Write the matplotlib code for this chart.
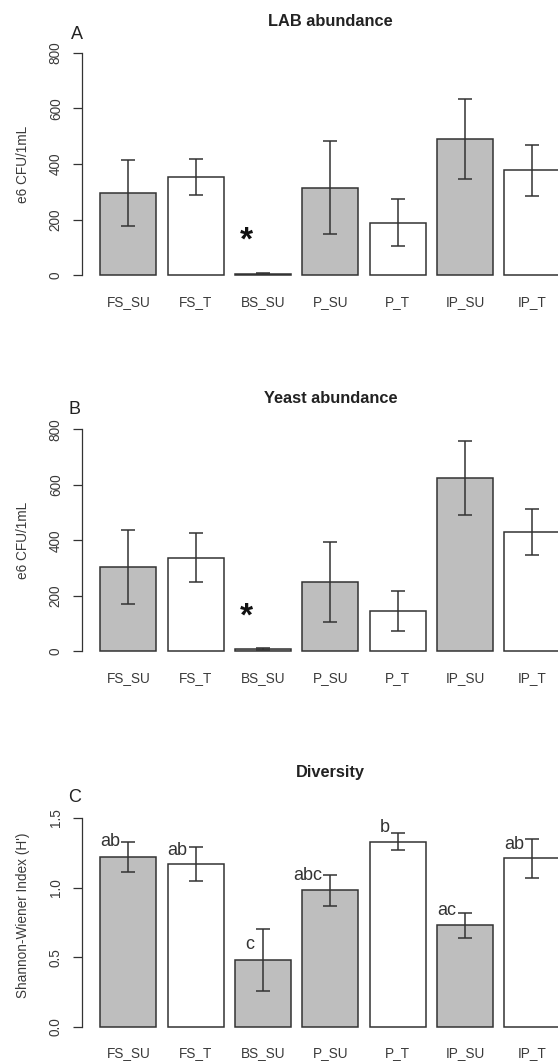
import numpy as np
import matplotlib
matplotlib.use("Agg")
import matplotlib.pyplot as plt

plt.rcParams['font.family'] = ['Liberation Sans', 'DejaVu Sans']

# ====== DATA ======
groups = ["FS_SU", "FS_T", "BS_SU", "P_SU", "P_T", "IP_SU", "IP_T"]
fills = ["#bebebe", "white", "#bebebe", "#bebebe", "white", "#bebebe", "white"]

lab_mean = [297, 352, 6, 315, 189, 489, 378]
lab_err = [119, 65, 3, 168, 85, 144, 92]

yeast_mean = [304, 338, 8, 251, 146, 625, 431]
yeast_err = [133, 87, 5, 144, 73, 133, 83]

div_mean = [1.22, 1.17, 0.48, 0.98, 1.33, 0.73, 1.21]
div_err = [0.11, 0.12, 0.22, 0.11, 0.06, 0.09, 0.14]
div_letters = ["ab", "ab", "c", "abc", "b", "ac", "ab"]
letter_y = [1.33, 1.27, 0.59, 1.086, 1.434, 0.834, 1.313]

star_group = 2
star_y = 151
# ==================

W, H = 558, 1061
DPI = 100
EDGE = "#333333"
TXT = "#3a3a3a"
FS = 9.8

x = 0.7 + 1.2 * np.arange(len(groups))


def px_axes(fig, left, right, top, bottom):
    return fig.add_axes([left / W, 1 - bottom / H, (right - left) / W, (bottom - top) / H])


def draw_panel(ax, mean, err, ylim, yticks, title, ylabel, ticklabels):
    ax.bar(x, mean, width=1.0, color=fills, edgecolor=EDGE, linewidth=1.1, zorder=2)
    ax.errorbar(x, mean, yerr=err, fmt="none", ecolor=EDGE, elinewidth=1.1,
                capsize=4.9, capthick=1.1, zorder=3)
    ax.set_xlim(-0.128, 8.728)
    ax.set_ylim(*ylim)
    for s in ["top", "right", "bottom"]:
        ax.spines[s].set_visible(False)
    ax.spines["left"].set_bounds(yticks[0], yticks[-1])
    ax.spines["left"].set_linewidth(0.9)
    ax.spines["left"].set_color(EDGE)
    ax.set_yticks(yticks)
    ax.set_yticklabels(ticklabels)
    ax.tick_params(axis="y", length=6.5, width=0.9, color=EDGE, pad=7.2,
                   labelsize=FS, labelcolor=TXT)
    for lbl in ax.get_yticklabels():
        lbl.set_rotation(90)
        lbl.set_va("center")
    ax.set_xticks(x)
    ax.set_xticklabels(groups)
    ax.tick_params(axis="x", length=0, pad=7.8, labelsize=FS, labelcolor=TXT)
    ax.set_title(title, fontsize=11.8, fontweight="bold", pad=12.8, color="#222222")
    ax.set_ylabel(ylabel, fontsize=FS, color=TXT)
    ax.yaxis.set_label_coords(-0.104, 0.5)
    ax.patch.set_alpha(0)


fig = plt.figure(figsize=(W / DPI, H / DPI), dpi=DPI)

axA = px_axes(fig, 81.9, 578.9, 43.8, 284.2)
draw_panel(axA, lab_mean, lab_err, (-32, 832), [0, 200, 400, 600, 800],
           "LAB abundance", "e6 CFU/1mL", ["0", "200", "400", "600", "800"])

axB = px_axes(fig, 81.9, 578.9, 420.4, 660.2)
draw_panel(axB, yeast_mean, yeast_err, (-32, 832), [0, 200, 400, 600, 800],
           "Yeast abundance", "e6 CFU/1mL", ["0", "200", "400", "600", "800"])

axC = px_axes(fig, 81.9, 578.9, 795.2, 1035.6)
draw_panel(axC, div_mean, div_err, (-0.064, 1.664), [0, 0.5, 1.0, 1.5],
           "Diversity", "Shannon-Wiener Index (H')", ["0.0", "0.5", "1.0", "1.5"])

# asterisks for BS_SU (glyph sits high in its box, so shift it down)
for ax in (axA, axB):
    ax.annotate("*", (x[star_group] - 0.3, star_y), xytext=(0, -5.5),
                textcoords="offset points", fontsize=24, fontweight="bold",
                ha="center", va="center", color="#111111")

# significance letters
for xi, lab, ly in zip(x, div_letters, letter_y):
    axC.text(xi - 0.15, ly, lab, fontsize=13, ha="right", va="center", color="#333333")

# panel letters
for lab, px, py in [("A", 76.7, 39.3), ("B", 74.7, 414.0), ("C", 74.7, 801.7)]:
    fig.text(px / W, 1 - py / H, lab, fontsize=13, ha="center", va="baseline", color="#222222")

fig.savefig("out.png", dpi=DPI)
